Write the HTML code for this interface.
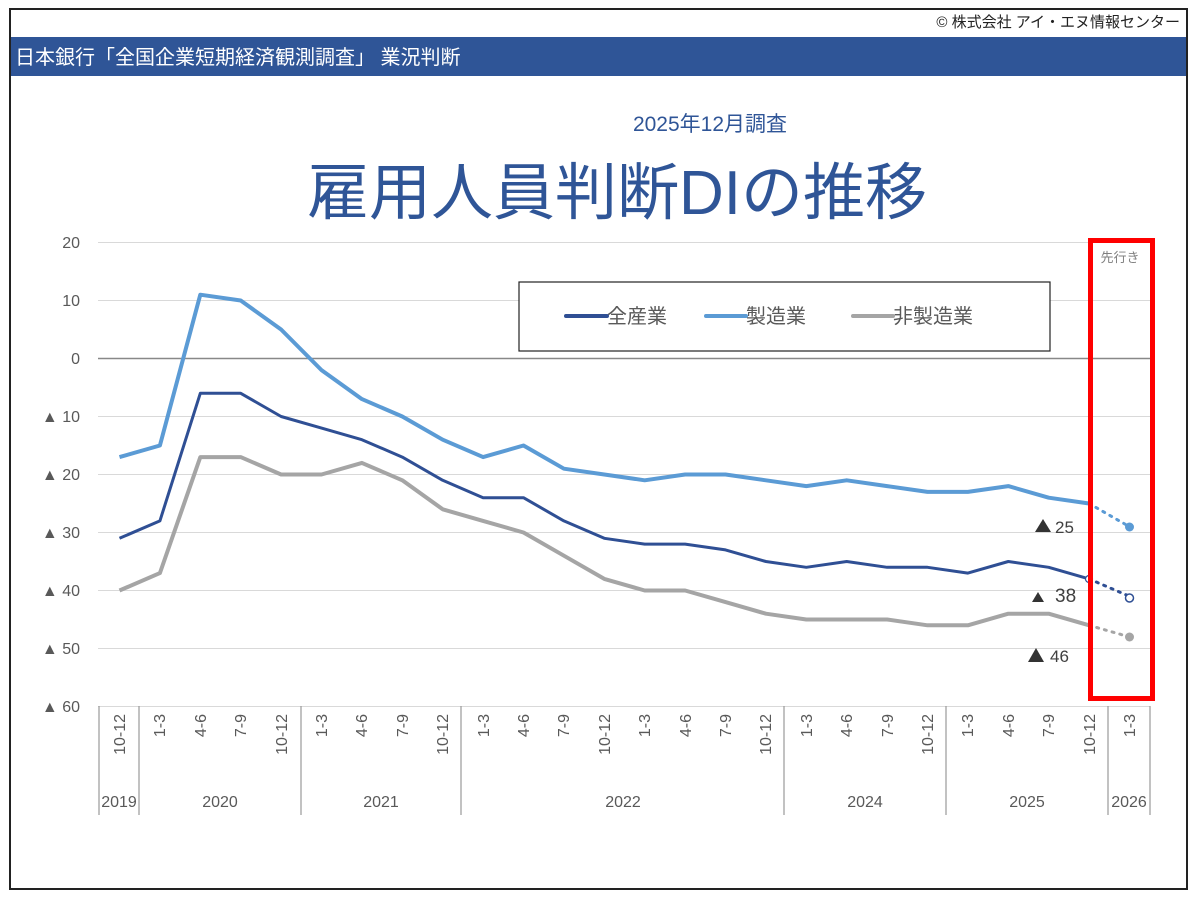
<!DOCTYPE html>
<html><head><meta charset="utf-8"><style>
body{margin:0;background:#fff;}
svg{display:block;font-family:"Liberation Sans","Noto Sans CJK JP",sans-serif;}
</style></head><body>
<svg width="1200" height="900" viewBox="0 0 1200 900">
<rect x="0" y="0" width="1200" height="900" fill="#fff"/>
<rect x="10" y="9" width="1177" height="880" fill="none" stroke="#222" stroke-width="2"/>
<text x="1180" y="27" text-anchor="end" font-size="15" fill="#222">© 株式会社 アイ・エヌ情報センター</text>
<rect x="11" y="37" width="1175" height="39" fill="#2F5597"/>
<text x="15" y="64" font-size="20" fill="#fff">日本銀行「全国企業短期経済観測調査」 業況判断</text>
<text x="710" y="131" text-anchor="middle" font-size="21" fill="#2F5597">2025年12月調査</text>
<text x="617" y="214" text-anchor="middle" font-size="62" fill="#2F5597">雇用人員判断DIの推移</text>
<g stroke="#d9d9d9" stroke-width="1">
<line x1="98" y1="242.5" x2="1150" y2="242.5"/>
<line x1="98" y1="300.5" x2="1150" y2="300.5"/>
<line x1="98" y1="416.5" x2="1150" y2="416.5"/>
<line x1="98" y1="474.5" x2="1150" y2="474.5"/>
<line x1="98" y1="532.5" x2="1150" y2="532.5"/>
<line x1="98" y1="590.5" x2="1150" y2="590.5"/>
<line x1="98" y1="648.5" x2="1150" y2="648.5"/>
<line x1="98" y1="706.5" x2="1150" y2="706.5"/>
</g>
<line x1="98" y1="358.5" x2="1150" y2="358.5" stroke="#888" stroke-width="1.5"/>
<g font-size="16" fill="#595959" text-anchor="end">
<text x="80" y="248">20</text><text x="80" y="306">10</text><text x="80" y="364">0</text>
<text x="80" y="422">▲ 10</text><text x="80" y="480">▲ 20</text><text x="80" y="538">▲ 30</text>
<text x="80" y="596">▲ 40</text><text x="80" y="654">▲ 50</text><text x="80" y="712">▲ 60</text>
</g>
<g stroke="#999" stroke-width="1.2">
<line x1="99" y1="706" x2="99" y2="815"/><line x1="139" y1="706" x2="139" y2="815"/>
<line x1="301" y1="706" x2="301" y2="815"/><line x1="461" y1="706" x2="461" y2="815"/>
<line x1="784" y1="706" x2="784" y2="815"/><line x1="946" y1="706" x2="946" y2="815"/>
<line x1="1108" y1="706" x2="1108" y2="815"/><line x1="1150" y1="706" x2="1150" y2="815"/>
</g>
<g font-size="16" fill="#595959" text-anchor="end">
<text transform="translate(125,714) rotate(-90)">10-12</text>
<text transform="translate(165,714) rotate(-90)">1-3</text>
<text transform="translate(206,714) rotate(-90)">4-6</text>
<text transform="translate(246,714) rotate(-90)">7-9</text>
<text transform="translate(287,714) rotate(-90)">10-12</text>
<text transform="translate(327,714) rotate(-90)">1-3</text>
<text transform="translate(367,714) rotate(-90)">4-6</text>
<text transform="translate(408,714) rotate(-90)">7-9</text>
<text transform="translate(448,714) rotate(-90)">10-12</text>
<text transform="translate(489,714) rotate(-90)">1-3</text>
<text transform="translate(529,714) rotate(-90)">4-6</text>
<text transform="translate(569,714) rotate(-90)">7-9</text>
<text transform="translate(610,714) rotate(-90)">10-12</text>
<text transform="translate(650,714) rotate(-90)">1-3</text>
<text transform="translate(691,714) rotate(-90)">4-6</text>
<text transform="translate(731,714) rotate(-90)">7-9</text>
<text transform="translate(771,714) rotate(-90)">10-12</text>
<text transform="translate(812,714) rotate(-90)">1-3</text>
<text transform="translate(852,714) rotate(-90)">4-6</text>
<text transform="translate(893,714) rotate(-90)">7-9</text>
<text transform="translate(933,714) rotate(-90)">10-12</text>
<text transform="translate(973,714) rotate(-90)">1-3</text>
<text transform="translate(1014,714) rotate(-90)">4-6</text>
<text transform="translate(1054,714) rotate(-90)">7-9</text>
<text transform="translate(1095,714) rotate(-90)">10-12</text>
<text transform="translate(1135,714) rotate(-90)">1-3</text>
</g>
<g font-size="16" fill="#595959" text-anchor="middle">
<text x="119" y="807">2019</text><text x="220" y="807">2020</text><text x="381" y="807">2021</text>
<text x="623" y="807">2022</text><text x="865" y="807">2024</text><text x="1027" y="807">2025</text><text x="1129" y="807">2026</text>
</g>
<polyline fill="none" stroke="#A5A5A5" stroke-width="4" stroke-linejoin="round" points="119.5,590.5 159.9,573.1 200.3,457.1 240.7,457.1 281.1,474.5 321.5,474.5 361.9,462.9 402.3,480.3 442.7,509.3 483.1,520.9 523.5,532.5 563.9,555.7 604.3,578.9 644.7,590.5 685.1,590.5 725.5,602.1 765.9,613.7 806.3,619.5 846.7,619.5 887.1,619.5 927.5,625.3 967.9,625.3 1008.3,613.7 1048.7,613.7 1089.1,625.3"/>
<polyline fill="none" stroke="#5B9BD5" stroke-width="4" stroke-linejoin="round" points="119.5,457.1 159.9,445.5 200.3,294.7 240.7,300.5 281.1,329.5 321.5,370.1 361.9,399.1 402.3,416.5 442.7,439.7 483.1,457.1 523.5,445.5 563.9,468.7 604.3,474.5 644.7,480.3 685.1,474.5 725.5,474.5 765.9,480.3 806.3,486.1 846.7,480.3 887.1,486.1 927.5,491.9 967.9,491.9 1008.3,486.1 1048.7,497.7 1089.1,503.5"/>
<polyline fill="none" stroke="#2F4F94" stroke-width="3" stroke-linejoin="round" points="119.5,538.3 159.9,520.9 200.3,393.3 240.7,393.3 281.1,416.5 321.5,428.1 361.9,439.7 402.3,457.1 442.7,480.3 483.1,497.7 523.5,497.7 563.9,520.9 604.3,538.3 644.7,544.1 685.1,544.1 725.5,549.9 765.9,561.5 806.3,567.3 846.7,561.5 887.1,567.3 927.5,567.3 967.9,573.1 1008.3,561.5 1048.7,567.3 1089.1,578.9"/>
<g stroke-width="3" stroke-dasharray="2,6" stroke-linecap="round" fill="none">
<line x1="1089" y1="503.5" x2="1129.5" y2="526.7" stroke="#5B9BD5"/>
<line x1="1089" y1="578.9" x2="1129.5" y2="596.3" stroke="#2F4F94"/>
<line x1="1089" y1="625.3" x2="1129.5" y2="636.9" stroke="#A5A5A5"/>
</g>
<circle cx="1129.5" cy="527" r="4.5" fill="#5B9BD5"/>
<circle cx="1129.5" cy="598" r="4" fill="#fff" stroke="#2F4F94" stroke-width="1.5"/>
<circle cx="1129.5" cy="637" r="4.5" fill="#A5A5A5"/>
<circle cx="1089" cy="579" r="3.5" fill="#fff" stroke="#2F4F94" stroke-width="1.2"/>
<g fill="#333">
<polygon points="1035,532 1043,519 1051,532"/>
<polygon points="1032,602 1038,592 1044,602"/>
<polygon points="1028,662 1036,648 1044,662"/>
</g>
<g font-size="17" fill="#404040">
<text x="1055" y="533">25</text>
<text x="1055" y="602" font-size="19">38</text>
<text x="1050" y="662">46</text>
</g>
<rect x="519" y="282" width="531" height="69" fill="#fff" stroke="#222" stroke-width="1.2"/>
<g font-size="20" fill="#595959">
<line x1="566" y1="316" x2="607" y2="316" stroke="#2F4F94" stroke-width="4" stroke-linecap="round"/>
<text x="607" y="323">全産業</text>
<line x1="706" y1="316" x2="746" y2="316" stroke="#5B9BD5" stroke-width="4" stroke-linecap="round"/>
<text x="746" y="323">製造業</text>
<line x1="853" y1="316" x2="893" y2="316" stroke="#A5A5A5" stroke-width="4" stroke-linecap="round"/>
<text x="893" y="323">非製造業</text>
</g>
<rect x="1090.5" y="240.5" width="62" height="458" fill="none" stroke="#FF0000" stroke-width="5"/>
<text x="1120" y="262" text-anchor="middle" font-size="13" fill="#7f7f7f">先行き</text>
</svg>
</body></html>
